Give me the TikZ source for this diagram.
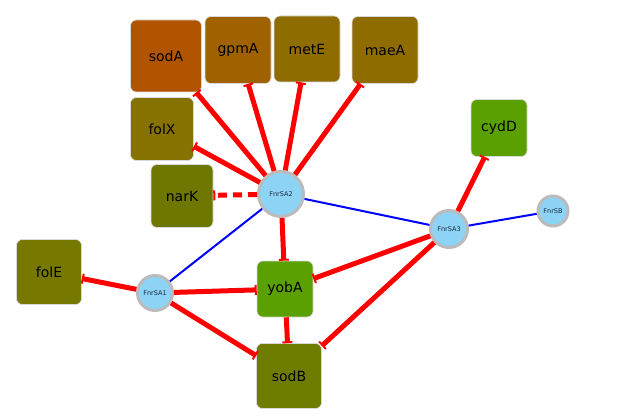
\documentclass[tikz,border=0pt]{standalone}
\usepackage{fontspec}
\setmainfont{DejaVu Sans}
\usetikzlibrary{arrows.meta}
\definecolor{cSodA}{HTML}{B05400}
\definecolor{cGpmA}{HTML}{A06200}
\definecolor{cMetE}{HTML}{8E6C00}
\definecolor{cMaeA}{HTML}{8E6C00}
\definecolor{cFolX}{HTML}{857200}
\definecolor{cNarK}{HTML}{6E7800}
\definecolor{cFolE}{HTML}{767800}
\definecolor{cSodB}{HTML}{6E7D00}
\definecolor{cGreen}{HTML}{5AA000}
\definecolor{cTF}{HTML}{8DD3F5}
\definecolor{cRim}{HTML}{BBBBBB}
\definecolor{cTFText}{HTML}{1A2A40}
\tikzset{
  gene/.style={draw=white!85!black, line width=0.6pt, rounded corners=6pt, inner sep=0pt, font=\fontsize{14}{16}\selectfont},
  tf/.style={circle, fill=cTF, draw=cRim, line width=3pt, inner sep=0pt, text=cTFText, font=\fontsize{6.5}{7}\selectfont},
  inh/.style={draw=red, line width=5pt, -{Bar[width=10pt,line width=2pt]}},
  link/.style={draw=blue, line width=2pt},
}
\begin{document}
\begin{tikzpicture}[x=1pt,y=-1pt]
\useasboundingbox (0,0) rectangle (619,420);
% genes
\node[gene, fill=cSodA, minimum width=71pt, minimum height=72pt] (sodA) at (166,56) {sodA};
\node[gene, fill=cGpmA, minimum width=66pt, minimum height=67pt] (gpmA) at (238,50) {gpmA};
\node[gene, fill=cMetE, minimum width=66pt, minimum height=66pt] (metE) at (307,49) {metE};
\node[gene, fill=cMaeA, minimum width=66pt, minimum height=67pt] (maeA) at (385,50) {maeA};
\node[gene, fill=cFolX, minimum width=63pt, minimum height=63pt] (folX) at (162,129) {folX};
\node[gene, fill=cNarK, minimum width=62pt, minimum height=63pt] (narK) at (182,196) {narK};
\node[gene, fill=cGreen, minimum width=56pt, minimum height=57pt] (cydD) at (499,128) {cydD};
\node[gene, fill=cFolE, minimum width=65pt, minimum height=65pt] (folE) at (49,272) {folE};
\node[gene, fill=cGreen, minimum width=56pt, minimum height=56pt] (yobA) at (285,289) {yobA};
\node[gene, fill=cSodB, minimum width=65pt, minimum height=65pt] (sodB) at (289,376) {sodB};
% transcription factors
\node[tf, minimum size=45pt] (SA2) at (281,194) {FnrSA2};
\node[tf, minimum size=37pt] (SA3) at (449,229) {FnrSA3};
\node[tf, minimum size=35pt] (SA1) at (155,293) {FnrSA1};
\node[tf, minimum size=30pt] (SB) at (553,211) {FnrSB};
% blue links
\draw[link] (SA2) -- (SA1);
\draw[link] (SA2) -- (SA3);
\draw[link] (SA3) -- (SB);
% inhibitions
\draw[inh] (SA2) -- (sodA);
\draw[inh] (SA2) -- (gpmA);
\draw[inh] (SA2) -- (metE);
\draw[inh] (SA2) -- (maeA);
\draw[inh] (SA2) -- (folX);
\draw[inh, dash pattern=on 9pt off 6pt] (SA2) -- (narK);
\draw[inh] (SA2) -- (yobA);
\draw[inh] (SA1) -- (folE);
\draw[inh] (SA1) -- (yobA);
\draw[inh] (SA1) -- (sodB);
\draw[inh] (SA3) -- (cydD);
\draw[inh] (SA3) -- (yobA);
\draw[inh] (SA3) -- (sodB);
\draw[inh] (yobA) -- (sodB);
\end{tikzpicture}
\end{document}
